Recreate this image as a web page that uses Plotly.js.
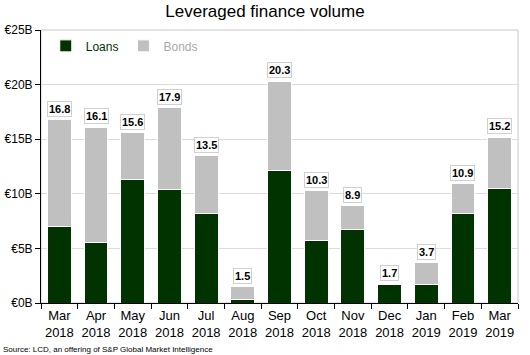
<!DOCTYPE html>
<html><head><meta charset="utf-8">
<script src="https://cdn.plot.ly/plotly-3.0.1.min.js"></script>
<style>body{margin:0;padding:0;background:#fff}#chart{width:530px;height:355px}</style>
</head><body><div id="chart"></div>
<script>
const categories = ["Mar<br>2018","Apr<br>2018","May<br>2018","Jun<br>2018","Jul<br>2018","Aug<br>2018","Sep<br>2018","Oct<br>2018","Nov<br>2018","Dec<br>2018","Jan<br>2019","Feb<br>2019","Mar<br>2019"];
const loans = [7.0, 5.5, 11.3, 10.4, 8.2, 0.3, 12.1, 5.7, 6.7, 1.7, 1.7, 8.2, 10.5];
const bonds = [9.8, 10.6, 4.3, 7.5, 5.3, 1.2, 8.2, 4.6, 2.2, 0.0, 2.0, 2.7, 4.7];
const totals = [16.8, 16.1, 15.6, 17.9, 13.5, 1.5, 20.3, 10.3, 8.9, 1.7, 3.7, 10.9, 15.2];
const yTickVals = [0, 5, 10, 15, 20, 25];
const yTickText = ["€0B","€5B","€10B","€15B","€20B","€25B"];

const font = "Liberation Sans, Arial, sans-serif";
const traces = [
  {type:"bar", x:categories, y:loans, name:'<span style="color:#003300">Loans</span>',
   marker:{color:"#003300", line:{color:"#ffffff", width:1}}, hoverinfo:"skip"},
  {type:"bar", x:categories, y:bonds, name:'<span style="color:#a8a8a8">Bonds</span>',
   marker:{color:"#c0c0c0", line:{color:"#ffffff", width:1}}, hoverinfo:"skip"}
];
const annotations = categories.map((c,i)=>({
  x:c, y:totals[i], xref:"x", yref:"y", text:"<b>"+totals[i].toFixed(1)+"</b>",
  showarrow:false, yanchor:"bottom", yshift:3,
  font:{family:font, size:11, color:"#000"},
  bgcolor:"#ffffff", bordercolor:"#d0d0d0", borderwidth:1, borderpad:1
}));
annotations.push({
  xref:"paper", yref:"paper", x:-0.084, y:-0.145, xanchor:"left", yanchor:"top",
  text:"Source: LCD, an offering of S&P Global Market Intelligence", showarrow:false,
  font:{family:font, size:8, color:"#000"}
});
const layout = {
  width:530, height:355,
  margin:{l:41, r:12, t:30, b:52},
  paper_bgcolor:"#fff", plot_bgcolor:"#fff",
  barmode:"stack", bargap:0.35,
  title:{text:"Leveraged finance volume", font:{family:font, size:17, color:"#000"}, x:0.5, xanchor:"center", y:0.985, yanchor:"top"},
  showlegend:true,
  legend:{orientation:"h", x:0.01, y:0.995, xanchor:"left", yanchor:"top", font:{family:font, size:12}, bgcolor:"rgba(0,0,0,0)", traceorder:"normal", itemwidth:30},
  xaxis:{type:"category", tickson:"boundaries", ticks:"outside", ticklen:5, tickcolor:"#000", tickangle:0,
    showline:true, linecolor:"#000", linewidth:1, showgrid:false,
    tickfont:{family:font, size:13, color:"#000"}, fixedrange:true},
  yaxis:{range:[0,25], tickvals:yTickVals, ticktext:yTickText, ticks:"outside", ticklen:5, tickcolor:"#000",
    showline:true, linecolor:"#000", linewidth:1, gridcolor:"#dcdcdc", gridwidth:1, zeroline:false,
    tickfont:{family:font, size:12, color:"#000"}, fixedrange:true},
  shapes:[{type:"rect", xref:"paper", yref:"paper", x0:0, x1:1, y0:0, y1:1, line:{color:"#c8c8c8", width:1}, layer:"below"}],
  annotations:annotations
};
Plotly.newPlot("chart", traces, layout, {displayModeBar:false, staticPlot:true});
</script></body></html>
